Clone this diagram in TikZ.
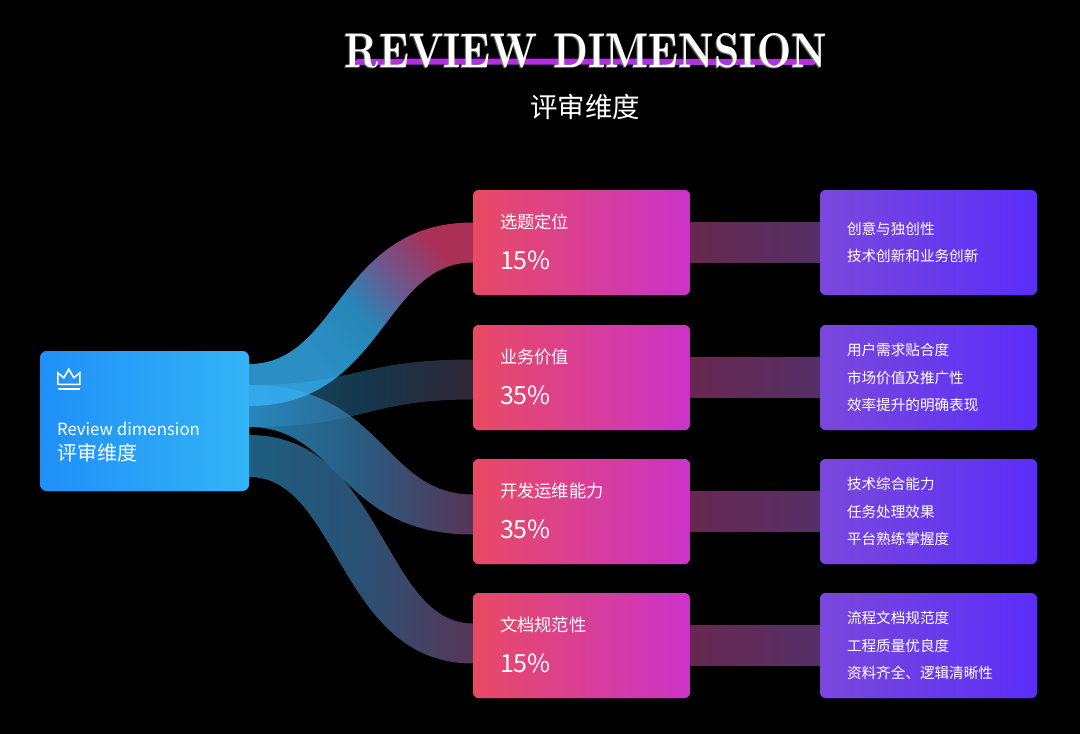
\documentclass[tikz,border=0pt]{standalone}
\usepackage{fontspec}
\usepackage{graphicx}
\newfontfamily\cjk{Noto Sans CJK SC}
\usetikzlibrary{calc}
\definecolor{bgc}{HTML}{000000}
\definecolor{mL}{HTML}{E84A62}
\definecolor{mR}{HTML}{CB33C8}
\definecolor{rL}{HTML}{7A48DC}
\definecolor{rR}{HTML}{5A2EF8}
\definecolor{lL}{HTML}{1F90F8}
\definecolor{lR}{HTML}{33B4F5}
\definecolor{sL}{HTML}{672850}
\definecolor{sR}{HTML}{553066}
\definecolor{brush}{HTML}{B52EE2}
\definecolor{tshadow}{HTML}{8C8C8C}
\definecolor{aA}{HTML}{36B3F6}
\definecolor{aB}{HTML}{32A8E6}
\definecolor{aC}{HTML}{8570B4}
\definecolor{aD}{HTML}{D63C6E}
\definecolor{bA}{HTML}{215D80}
\definecolor{bB}{HTML}{1A465F}
\definecolor{bC}{HTML}{3C3044}
\definecolor{cA}{HTML}{2A96D2}
\definecolor{cB}{HTML}{3473A0}
\definecolor{cC}{HTML}{6D426C}
\definecolor{dA}{HTML}{2676A0}
\definecolor{dB}{HTML}{346691}
\definecolor{dC}{HTML}{6E446E}
\pgfdeclarehorizontalshading{bandone}{100bp}{color(0bp)=(aA); color(34bp)=(aA); color(50bp)=(aB); color(61bp)=(aC); color(75bp)=(aD); color(100bp)=(aD)}
\pgfdeclarehorizontalshading{bandtwo}{100bp}{color(0bp)=(bA); color(25bp)=(bA); color(50bp)=(bB); color(75bp)=(bC); color(100bp)=(bC)}
\pgfdeclarehorizontalshading{bandthree}{100bp}{color(0bp)=(cA); color(25bp)=(cA); color(50bp)=(cB); color(75bp)=(cC); color(100bp)=(cC)}
\pgfdeclarehorizontalshading{bandfour}{100bp}{color(0bp)=(dA); color(25bp)=(dA); color(50bp)=(dB); color(75bp)=(dC); color(100bp)=(dC)}
% #1 shading options, #2 target node, #3 left centre offset, #4 right centre offset, #5 control shift
\newcommand\sankeyband[5]{%
  \shade[#1, opacity=0.8]
    ($(L.east)+(0,{#3-21})$) .. controls ($(L.east)+({112-(#5)},{#3-21})$) and ($(#2.west)+({-112-(#5)},{#4-20})$) .. ($(#2.west)+(0,{#4-20})$)
    -- ($(#2.west)+(0,{#4+20})$) .. controls ($(#2.west)+({-112+(#5)},{#4+20})$) and ($(L.east)+({112+(#5)},{#3+21})$) .. ($(L.east)+(0,{#3+21})$)
    -- cycle;}
\tikzset{
  midbox/.style={rounded corners=6pt, minimum width=217pt, minimum height=105pt, inner sep=0pt, left color=mL, right color=mR},
  rightbox/.style={rounded corners=6pt, minimum width=217pt, minimum height=105pt, inner sep=0pt, left color=rL, right color=rR},
  leftbox/.style={rounded corners=7pt, minimum width=209pt, minimum height=140pt, inner sep=0pt, left color=lL, right color=lR},
  midtitle/.style={anchor=west, inner sep=0pt, text=white, font=\cjk\fontsize{17.3pt}{20pt}\selectfont},
  midpct/.style={anchor=west, inner sep=0pt, text=white, font=\cjk\fontsize{25pt}{30pt}\selectfont},
  righttext/.style={anchor=west, inner sep=0pt, text=white, align=left, font=\cjk\fontsize{14.6pt}{27.5pt}\selectfont},
  linkband/.style={left color=sL, right color=sR}
}
\begin{document}
\begin{tikzpicture}[x=1pt,y=-1pt]
\fill[bgc] (0,0) rectangle (1080,734);
\useasboundingbox (0,0) rectangle (1080,734);

% title
\draw[brush, line width=6pt, line cap=round] (358,62) .. controls (500,61) and (700,62) .. (813,62);
\node[inner sep=0pt, text=tshadow, opacity=0.7] (titleshadow) at (585,51.5) {\resizebox{482pt}{34pt}{\rmfamily\bfseries REVIEW DIMENSION}};
\node[inner sep=0pt, text=white] (title) at (586,50.5) {\resizebox{482pt}{34pt}{\rmfamily\bfseries REVIEW DIMENSION}};
\node[inner sep=0pt, text=white, font=\cjk\fontsize{27.5pt}{30pt}\selectfont] (subtitle) at (585,107) {评审维度};

% boxes
\node[leftbox] (L) at (144.5,421) {};
\node[midbox] (M1) at (581.5,242.5) {};
\node[midbox] (M2) at (581.5,377.5) {};
\node[midbox] (M3) at (581.5,511.5) {};
\node[midbox] (M4) at (581.5,645.5) {};
\node[rightbox] (R1) at (928.5,242.5) {};
\node[rightbox] (R2) at (928.5,377.5) {};
\node[rightbox] (R3) at (928.5,511.5) {};
\node[rightbox] (R4) at (928.5,645.5) {};

% sankey bands
\sankeyband{shading=bandfour}{M4}{35}{-2}{-22}
\sankeyband{shading=bandtwo}{M2}{-15}{2}{4}
\sankeyband{shading=bandthree}{M3}{-15}{3}{-22}
\sankeyband{shading=bandone, shading angle=40}{M1}{-36}{0}{22}

% straight bands
\shade[linkband] ($(M1.east)+(0,-20)$) rectangle ($(R1.west)+(0,20)$);
\shade[linkband] ($(M2.east)+(0,-20)$) rectangle ($(R2.west)+(0,20)$);
\shade[linkband] ($(M3.east)+(0,-20)$) rectangle ($(R3.west)+(0,20)$);
\shade[linkband] ($(M4.east)+(0,-20)$) rectangle ($(R4.west)+(0,20)$);

% redraw boxes on top
\node[leftbox] at (L) {};
\node[midbox] at (M1) {};
\node[midbox] at (M2) {};
\node[midbox] at (M3) {};
\node[midbox] at (M4) {};
\node[rightbox] at (R1) {};
\node[rightbox] at (R2) {};
\node[rightbox] at (R3) {};
\node[rightbox] at (R4) {};

% left box content
\begin{scope}[shift={(L.north west)}]
\draw[white, line width=1.6pt, line join=miter] (18,22) -- (24,27) -- (29,18.5) -- (34,27) -- (40,22) -- (40,33.5) -- (18,33.5) -- cycle;
\draw[white, line width=1.6pt] (18,38) -- (40,38);
\end{scope}
\node[anchor=west, inner sep=0pt, text=white, font=\cjk\fontsize{16.8pt}{20pt}\selectfont] (lt1) at ($(L.west)+(17,8)$) {Review dimension};
\node[anchor=west, inner sep=0pt, text=white, font=\cjk\fontsize{20pt}{24pt}\selectfont] (lt2) at ($(L.west)+(17,32)$) {评审维度};

% middle texts
\node[midtitle] (m1t) at ($(M1.west)+(27,-20.5)$) {选题定位};
\node[midpct] (m1p) at ($(M1.west)+(27,17.5)$) {15\%};
\node[midtitle] (m2t) at ($(M2.west)+(27,-20.5)$) {业务价值};
\node[midpct] (m2p) at ($(M2.west)+(27,17.5)$) {35\%};
\node[midtitle] (m3t) at ($(M3.west)+(27,-20.5)$) {开发运维能力};
\node[midpct] (m3p) at ($(M3.west)+(27,17.5)$) {35\%};
\node[midtitle] (m4t) at ($(M4.west)+(27,-20.5)$) {文档规范性};
\node[midpct] (m4p) at ($(M4.west)+(27,17.5)$) {15\%};

% right texts
\node[righttext] (r1t) at ($(R1.west)+(27,0)$) {创意与独创性\\技术创新和业务创新};
\node[righttext] (r2t) at ($(R2.west)+(27,0)$) {用户需求贴合度\\市场价值及推广性\\效率提升的明确表现};
\node[righttext] (r3t) at ($(R3.west)+(27,0)$) {技术综合能力\\任务处理效果\\平台熟练掌握度};
\node[righttext] (r4t) at ($(R4.west)+(27,0)$) {流程文档规范度\\工程质量优良度\\资料齐全、逻辑清晰性};
\end{tikzpicture}
\end{document}
